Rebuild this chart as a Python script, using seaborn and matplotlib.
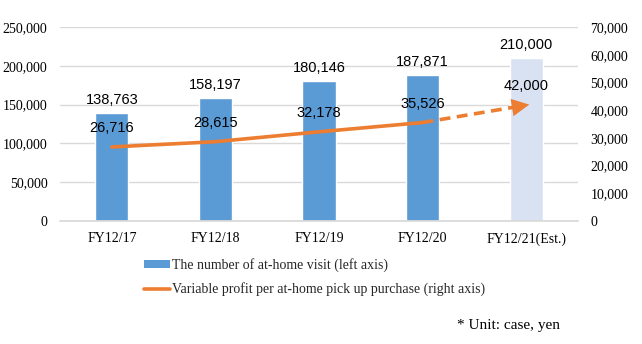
import matplotlib
matplotlib.use("Agg")
import matplotlib.pyplot as plt
from matplotlib.patches import Patch
from matplotlib.lines import Line2D
from matplotlib.ticker import FuncFormatter
import seaborn as sns
import pandas as pd

years = ["FY12/17", "FY12/18", "FY12/19", "FY12/20", "FY12/21(Est.)"]
visits = [138763, 158197, 180146, 187871, 210000]
profit = [26716, 28615, 32178, 35526, 42000]
bar_colors = ["#5B9BD5", "#5B9BD5", "#5B9BD5", "#5B9BD5", "#D9E2F3"]
left_ticks = [0, 50000, 100000, 150000, 200000, 250000]
right_ticks = [0, 10000, 20000, 30000, 40000, 50000, 60000, 70000]

sns.set_theme(style="white")
plt.rcParams["font.family"] = ["Liberation Serif", "DejaVu Serif"]

fig = plt.figure(figsize=(6.42, 3.44), dpi=100)
ax = fig.add_axes([60 / 642, 1 - 221 / 344, 518 / 642, 194 / 344])

df = pd.DataFrame({"year": years, "visits": visits})
sns.barplot(data=df, x="year", y="visits", hue="year", palette=bar_colors,
            width=0.32, legend=False, ax=ax, saturation=1)

ax.set_xlim(-0.5, 4.5)
ax.set_ylim(0, 250000)
ax.set_yticks(left_ticks)
ax.yaxis.set_major_formatter(FuncFormatter(lambda v, p: f"{int(v):,}"))
ax.grid(axis="y", color="#D9D9D9", linewidth=1)
ax.set_axisbelow(True)
for s in ["top", "left", "right"]:
    ax.spines[s].set_visible(False)
ax.spines["bottom"].set_color("#D9D9D9")
ax.tick_params(axis="both", length=0, labelsize=10, colors="#000000")
ax.tick_params(axis="x", pad=8)
ax.tick_params(axis="y", pad=9)
ax.set_xlabel("")
ax.set_ylabel("")

label_font = ["Liberation Sans", "DejaVu Sans"]

for i, v in enumerate(visits):
    ax.text(i, v + 7500, f"{v:,}", ha="center", va="bottom", fontsize=10.5,
            family=label_font, color="#000000")

ax2 = ax.twinx()
ax2.set_ylim(0, 70000)
ax2.set_yticks(right_ticks)
ax2.yaxis.set_major_formatter(FuncFormatter(lambda v, p: f"{int(v):,}"))
ax2.tick_params(axis="y", length=0, labelsize=10, colors="#000000", pad=9)
for s in ["top", "left", "right", "bottom"]:
    ax2.spines[s].set_visible(False)
ax2.grid(False)

orange = "#ED7D31"
actual = pd.DataFrame({"x": [0, 1, 2, 3], "y": profit[:4]})
sns.lineplot(data=actual, x="x", y="y", color=orange, linewidth=2.6, ax=ax2)

# forecast segment: dashed line with filled arrowhead
x0, y0 = 3, profit[3]
x1, y1 = 4.03, profit[4]
fx = x0 + (x1 - x0) * 0.9
fy = y0 + (y1 - y0) * 0.9
ax2.plot([x0, fx], [y0, fy], color=orange, linewidth=2.6, linestyle=(0, (3, 1.8)))
ax2.annotate("", xy=(x1, y1), xytext=(fx - 0.02, fy - (y1 - y0) * 0.02),
             arrowprops=dict(arrowstyle="-|>,head_length=0.9,head_width=0.45",
                             color=orange, lw=0, mutation_scale=14, shrinkA=0, shrinkB=0))
ax2.set_xlabel("")
ax2.set_ylabel("")
ax2.set_xlim(-0.5, 4.5)

for i, v in enumerate(profit):
    ax2.text(i, v + 4200, f"{v:,}", ha="center", va="bottom", fontsize=10.5,
             family=label_font, color="#000000")

handles = [Patch(facecolor="#5B9BD5", edgecolor="none"),
           Line2D([], [], color=orange, linewidth=2.6)]
labels = ["The number of at-home visit (left axis)",
          "Variable profit per at-home pick up purchase (right axis)"]
fig.legend(handles, labels, loc="upper left", bbox_to_anchor=(144 / 642, 1 - 258 / 344),
           frameon=False, fontsize=10, handlelength=1.85, handleheight=0.45,
           handletextpad=0.15, labelspacing=0.75, borderaxespad=0, borderpad=0)

fig.text(560 / 642, 1 - 326 / 344, "* Unit: case, yen", ha="right", va="center",
         fontsize=11, color="#000000")

fig.savefig("out.png", dpi=100)
